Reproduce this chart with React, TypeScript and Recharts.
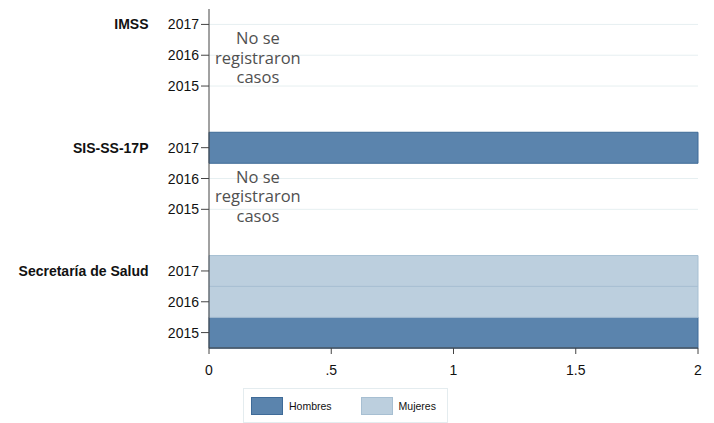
import React from 'react'
import {
  BarChart,
  Bar,
  XAxis,
  YAxis,
  CartesianGrid,
  Legend,
  ReferenceArea,
} from 'recharts'

const groups = ['IMSS', 'SIS-SS-17P', 'Secretaría de Salud']
const years = ['2017', '2016', '2015']
// values per group, in the order of years
const hombres = [
  [0, 0, 0],
  [2, 0, 0],
  [0, 0, 2],
]
const mujeres = [
  [0, 0, 0],
  [0, 0, 0],
  [2, 2, 0],
]
const xTicks = [0, 0.5, 1, 1.5, 2]
const xTickLabels = ['0', '.5', '1', '1.5', '2']
const noteLines = ['No se', 'registraron', 'casos']
// groups without cases: first and last year covered by the note
const notes = [
  { group: 'IMSS', from: '2017', to: '2015' },
  { group: 'SIS-SS-17P', from: '2016', to: '2015' },
]

const series = [
  { key: 'Hombres', fill: '#5b84ad', stroke: '#3f6b98' },
  { key: 'Mujeres', fill: '#bccfde', stroke: '#a7bfd2' },
]

const FONT = "'Liberation Sans', Arial, sans-serif"

const rows: any[] = []
const tickKeys: string[] = []
groups.forEach((g, gi) => {
  if (gi > 0) rows.push({ key: `gap${gi}` })
  years.forEach((y, yi) => {
    const key = `${g}|${y}`
    tickKeys.push(key)
    rows.push({ key, Hombres: hombres[gi][yi], Mujeres: mujeres[gi][yi] })
  })
})

const YTick = (props: any) => {
  const { x, y, payload } = props
  const [group, year] = String(payload.value).split('|')
  return (
    <g>
      <text x={x} y={y} textAnchor='end' dominantBaseline='central'
        style={{ fontSize: 14, fontFamily: FONT, fill: '#111' }}>
        {year}
      </text>
      {year === years[0] && (
        <text x={148.5} y={y} textAnchor='end' dominantBaseline='central'
          style={{ fontSize: 14, fontWeight: 700, fontFamily: FONT, fill: '#111' }}>
          {group}
        </text>
      )}
    </g>
  )
}

const NoteLabel = (props: any) => {
  const { viewBox } = props
  const cx = viewBox.x + viewBox.width / 2
  const cy = viewBox.y + viewBox.height / 2 + 2
  return (
    <g>
      {noteLines.map((line, i) => (
        <text key={line} x={cx} y={cy + (i - 1) * 19.5} textAnchor='middle'
          dominantBaseline='central'
          style={{ fontSize: 16.5, fontFamily: "'Open Sans', sans-serif", fill: '#505050' }}>
          {line}
        </text>
      ))}
    </g>
  )
}

const LegendBox = () => (
  <div style={{
    boxSizing: 'border-box',
    height: 35,
    border: '1px solid #e4ecef',
    display: 'flex',
    alignItems: 'center',
    paddingLeft: 7,
    fontFamily: FONT,
    fontSize: 10.5,
    color: '#111',
  }}>
    {series.map((s, i) => (
      <div key={s.key} style={{ display: 'flex', alignItems: 'center', marginLeft: i ? 29 : 0 }}>
        <div style={{
          boxSizing: 'border-box',
          width: 32,
          height: 18,
          background: s.fill,
          border: `1px solid ${s.stroke}`,
          marginRight: 6,
        }} />
        <span>{s.key}</span>
      </div>
    ))}
  </div>
)

export default function App() {
  return (
    <div style={{ position: 'absolute', left: 0, top: 0, background: '#fff' }}>
      <BarChart
        width={714}
        height={423}
        data={rows}
        layout='vertical'
        barCategoryGap={0}
        barGap={0}
        margin={{ top: 9, right: 16, bottom: 0, left: 0 }}
      >
        <CartesianGrid horizontal vertical={false} syncWithTicks stroke='#e6eff1' />
        <XAxis
          type='number'
          domain={[0, 2]}
          ticks={xTicks}
          tickFormatter={(v: number) => xTickLabels[xTicks.indexOf(v)]}
          height={40}
          tickSize={6}
          tickMargin={11}
          stroke='#444'
          tick={{ fontSize: 14, fontFamily: FONT, fill: '#111' }}
        />
        <YAxis
          type='category'
          dataKey='key'
          ticks={tickKeys}
          width={209}
          tickSize={8}
          tickMargin={2}
          stroke='#444'
          interval={0}
          tick={<YTick />}
        />
        {series.map((s) => (
          <Bar
            key={s.key}
            dataKey={s.key}
            stackId='a'
            fill={s.fill}
            stroke={s.stroke}
            strokeWidth={1}
            isAnimationActive={false}
          />
        ))}
        {notes.map((n) => (
          <ReferenceArea
            key={n.group}
            x1={0}
            x2={0.4}
            y1={`${n.group}|${n.from}`}
            y2={`${n.group}|${n.to}`}
            fillOpacity={0}
            strokeOpacity={0}
            label={<NoteLabel />}
          />
        ))}
        <Legend
          verticalAlign='bottom'
          content={<LegendBox />}
          wrapperStyle={{ left: 243, width: 205, bottom: 0 }}
        />
      </BarChart>
    </div>
  )
}
